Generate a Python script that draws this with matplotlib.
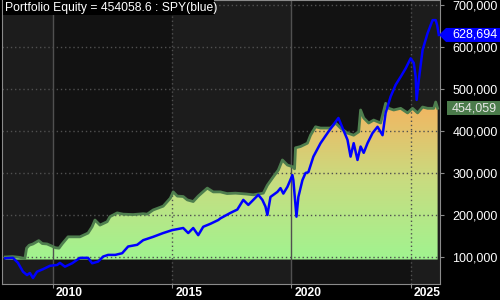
import numpy as np
import matplotlib
matplotlib.use("Agg")
import matplotlib.pyplot as plt
import matplotlib.transforms as mtransforms
from matplotlib.colors import LinearSegmentedColormap
from matplotlib.patches import Polygon, Rectangle

plt.rcParams['font.family'] = ['Liberation Sans', 'DejaVu Sans']

# portfolio equity (decimal year, value)
eq_year = [2008.00, 2008.30, 2008.61, 2008.82, 2008.89, 2009.00, 2009.16, 2009.40, 2009.55, 2009.75,
           2009.95, 2010.10, 2010.25, 2010.38, 2010.63, 2011.13, 2011.47, 2011.64, 2011.76, 2011.97,
           2012.27, 2012.39, 2012.69, 2012.94, 2013.36, 2013.78, 2013.95, 2014.20, 2014.62, 2014.92,
           2015.04, 2015.21, 2015.46, 2015.63, 2015.88, 2016.09, 2016.47, 2016.72, 2017.02, 2017.30,
           2017.65, 2018.10, 2018.40, 2018.82, 2018.99, 2019.24, 2019.45, 2019.62, 2019.83, 2020.04,
           2020.13, 2020.17, 2020.38, 2020.67, 2020.80, 2021.01, 2021.22, 2021.64, 2021.85, 2022.06,
           2022.35, 2022.61, 2022.82, 2022.90, 2023.03, 2023.24, 2023.45, 2023.74, 2023.95, 2024.08,
           2024.29, 2024.58, 2024.87, 2025.08, 2025.29, 2025.50, 2025.71, 2025.97, 2026.05, 2026.13]
eq_value = [100, 101, 99, 96, 121, 128, 131, 139, 132, 131,
            126, 122, 121, 131, 148, 148, 157, 172, 188, 176,
            184, 196, 205, 202, 201, 203, 202, 212, 221, 240,
            255, 245, 244, 236, 232, 245, 264, 255, 255, 251,
            252, 250, 248, 252, 271, 291, 307, 331, 319, 315,
            310, 360, 363, 371, 390, 410, 407, 407, 419, 407,
            395, 390, 398, 450, 431, 419, 426, 419, 466, 454,
            450, 454, 443, 454, 443, 457, 454, 454, 469, 454.059]

# SPY scaled to the same start (decimal year, value)
spy_year = [2008.00, 2008.32, 2008.53, 2008.74, 2008.91, 2009.03, 2009.16, 2009.33, 2009.58, 2009.87,
            2010.17, 2010.29, 2010.50, 2010.80, 2011.13, 2011.47, 2011.64, 2011.89, 2012.10, 2012.31,
            2012.61, 2012.90, 2013.15, 2013.53, 2013.78, 2014.20, 2014.62, 2015.00, 2015.46, 2015.67,
            2015.88, 2016.09, 2016.30, 2016.60, 2016.93, 2017.02, 2017.44, 2017.73, 2017.98, 2018.19,
            2018.40, 2018.61, 2018.78, 2018.91, 2018.99, 2019.12, 2019.41, 2019.54, 2019.66, 2019.83,
            2020.04, 2020.08, 2020.21, 2020.29, 2020.46, 2020.59, 2020.71, 2020.92, 2021.22, 2021.51,
            2021.85, 2021.97, 2022.18, 2022.35, 2022.48, 2022.61, 2022.77, 2022.90, 2023.03, 2023.19,
            2023.40, 2023.61, 2023.82, 2023.95, 2024.16, 2024.37, 2024.58, 2024.79, 2025.00, 2025.13,
            2025.21, 2025.25, 2025.34, 2025.50, 2025.71, 2025.92, 2026.05, 2026.11, 2026.18]
spy_value = [97, 98, 86, 65, 57, 62, 50, 65, 71, 79,
             81, 86, 77, 85, 98, 98, 85, 89, 101, 105,
             105, 109, 125, 129, 140, 148, 157, 164, 169, 157,
             169, 152, 172, 179, 188, 192, 205, 213, 236, 224,
             236, 248, 236, 220, 200, 243, 255, 264, 251, 267,
             295, 283, 196, 243, 283, 300, 302, 339, 371, 395,
             422, 431, 402, 379, 339, 371, 331, 363, 348, 371,
             395, 410, 390, 443, 482, 510, 529, 549, 573, 562,
             529, 474, 521, 593, 633, 664, 664, 652, 628.694]

y_ticks = [100000, 200000, 300000, 400000, 500000, 600000, 700000]
x_ticks = [2010, 2015, 2020, 2025]
title = "Portfolio Equity = 454058.6 : SPY(blue)"

eq = np.array(eq_value) * 1000
spy = np.array(spy_value) * 1000
grid_col = '#505050'

fig = plt.figure(figsize=(5, 3), dpi=100, facecolor='black')
ax = fig.add_axes([0.004, 16 / 300, 0.876, 284 / 300])
ax.set_facecolor('#1c1c1c')

# darker background every other five years
for start in [2010, 2020]:
    ax.axvspan(start, start + 5, color='#121212', zorder=0, lw=0)

# gradient area for equity
base = 94000
poly = ax.fill_between(eq_year, base, eq, facecolor='none', edgecolor='none')
cmap = LinearSegmentedColormap.from_list('eqfill', ['#a0f490', '#c8dc80', '#f4b460'])
grad = np.linspace(0, 1, 256).reshape(-1, 1)
im = ax.imshow(grad, cmap=cmap, origin='lower', aspect='auto',
               extent=[eq_year[0], eq_year[-1], base, 470000], zorder=1)
im.set_clip_path(poly.get_paths()[0], transform=ax.transData)
ax.set_xlim(2007.86, 2026.23)
ax.set_ylim(35700, 711900)

for v in y_ticks:
    ax.axhline(v, color=grid_col, lw=1, ls=(0, (1, 2)), zorder=2)
for yr in x_ticks:
    ax.axvline(yr, color=grid_col, lw=1, ls='-' if yr % 10 == 0 else (0, (1, 2)), zorder=2)

ax.plot(eq_year, eq, color='#4e7e4e', lw=2.0, zorder=3)
ax.plot(spy_year, spy, color='#0000ff', lw=1.8, zorder=4)

for s in ax.spines.values():
    s.set_color('#8a8a8a')

ax.yaxis.tick_right()
ax.set_yticks(y_ticks)
ax.set_yticklabels(['{:,}'.format(v) for v in y_ticks])
ax.tick_params(axis='y', colors='#8a8a8a', labelcolor='white', length=3, pad=6, labelsize=9)
ax.set_xticks(x_ticks)
ax.set_xticklabels([str(v) for v in x_ticks])
ax.tick_params(axis='x', colors='#8a8a8a', labelcolor='white', length=3, pad=-1, labelsize=8.7)
offset = mtransforms.ScaledTranslation(3 / 100, 0, fig.dpi_scale_trans)
for lab in ax.get_xticklabels():
    lab.set_ha('left')
    lab.set_fontweight('bold')
    lab.set_transform(lab.get_transform() + offset)

# title box
fig.patches.append(Rectangle((3 / 500, 1 - 15 / 300), 211 / 500, 15 / 300,
                             transform=fig.transFigure, facecolor='black', edgecolor='none', zorder=5))
fig.text(5 / 500, 1 - 7.5 / 300, title, color='white', fontsize=8.7, va='center', ha='left', zorder=6)

# value tags on the right
inv = fig.transFigure.inverted()


def tag_y(val):
    return inv.transform(ax.transData.transform((2010, val)))[1]


h = 7 / 300
yb = tag_y(spy[-1])
fig.patches.append(Polygon([(439 / 500, yb), (446 / 500, yb + h), (1, yb + h), (1, yb - h), (446 / 500, yb - h)],
                           closed=True, transform=fig.transFigure, facecolor='#0000ff', edgecolor='none', zorder=5))
fig.text(452 / 500, yb, '{:,}'.format(int(round(spy[-1]))), color='white', fontsize=9, va='center', zorder=6)

yg = tag_y(eq[-1])
fig.patches.append(Rectangle((447 / 500, yg - h), 53 / 500, 2 * h, transform=fig.transFigure,
                             facecolor='#4b7b4b', edgecolor='none', zorder=5))
fig.text(452 / 500, yg, '{:,}'.format(int(round(eq[-1]))), color='#e8e8e8', fontsize=9, va='center', zorder=6)

fig.savefig('out.png', dpi=100, facecolor='black')
